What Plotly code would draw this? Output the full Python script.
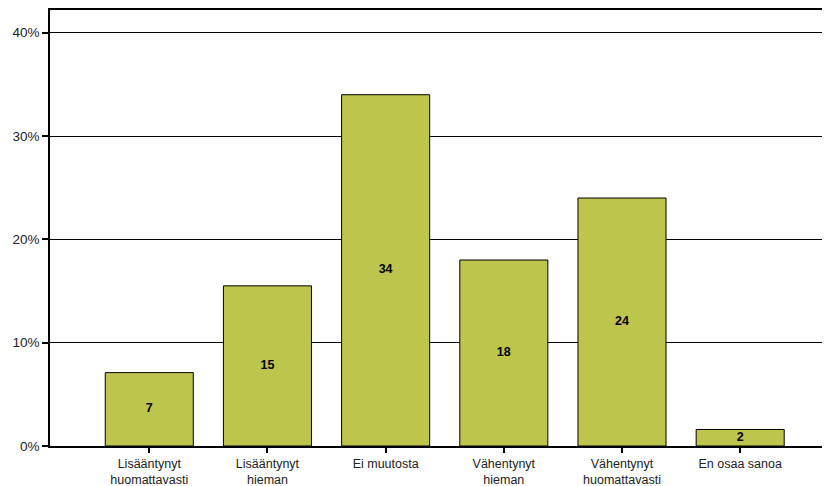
import plotly.graph_objects as go

categories = ["Lisääntynyt<br>huomattavasti", "Lisääntynyt<br>hieman", "Ei muutosta",
              "Vähentynyt<br>hieman", "Vähentynyt<br>huomattavasti", "En osaa sanoa"]
values = [7.1, 15.5, 34.0, 18.0, 24.0, 1.6]
labels = ["7", "15", "34", "18", "24", "2"]

fig = go.Figure()
fig.add_trace(go.Bar(x=categories, y=values, width=0.745,
                     marker_color="#bec54c", marker_line_color="black", marker_line_width=1))
fig.add_trace(go.Scatter(x=categories, y=[v / 2 for v in values], mode="text", text=labels,
                         textfont=dict(family="Liberation Sans", size=12.5, color="black", weight="bold")))

# page body has an 8px default margin, so margins are shifted to compensate
fig.update_layout(
    width=830, height=486, showlegend=False,
    margin=dict(l=42, r=8, t=2, b=48),
    plot_bgcolor="white", paper_bgcolor="white",
    font=dict(family="Liberation Sans", size=13.5, color="#222"),
)
fig.update_xaxes(range=[-0.84, 5.76], showline=True, linecolor="black", linewidth=1.5, mirror=True,
                 ticks="outside", ticklen=5, tickcolor="black", tickwidth=1.5, showgrid=False,
                 automargin=False, tickfont=dict(size=12.5))
fig.update_yaxes(range=[0, 42.2], tickvals=[0, 10, 20, 30, 40], ticktext=["0%", "10%", "20%", "30%", "40%"],
                 showline=True, linecolor="black", linewidth=1.5, ticks="outside", ticklen=6,
                 tickcolor="black", tickwidth=1.5, showgrid=True, gridcolor="black", gridwidth=1,
                 zeroline=False, automargin=False)
fig.write_html("out.html")
